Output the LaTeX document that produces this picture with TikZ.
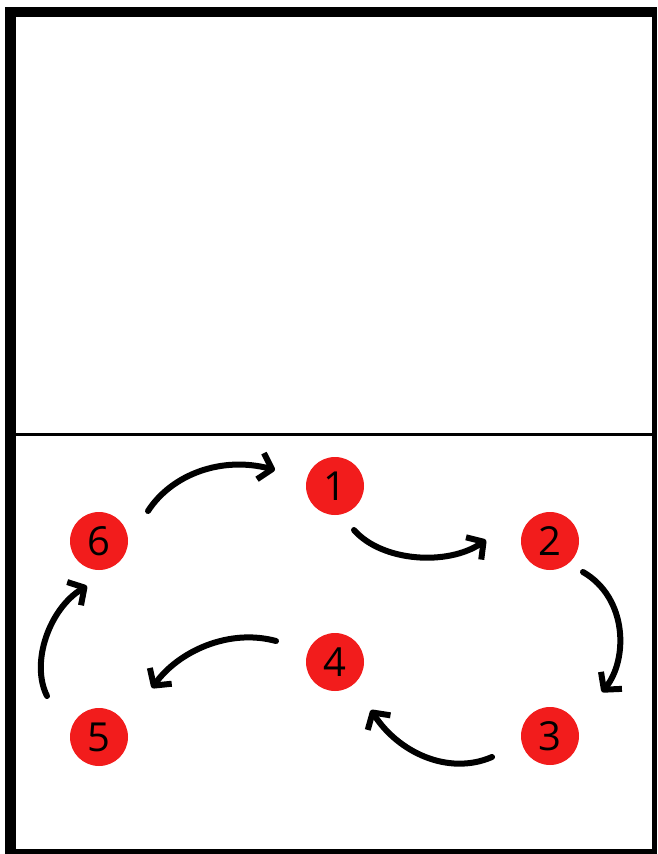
\documentclass[tikz,border=0pt]{standalone}
\usepackage{fontspec}
\setmainfont{Open Sans}
\usetikzlibrary{arrows.meta}
\definecolor{dotred}{RGB}{242,28,28}
\tikzset{
  dot/.style={circle,fill=dotred,minimum size=58pt,inner sep=0pt,font=\fontsize{40}{40}\selectfont},
  mv/.style={line width=6pt,line cap=round,-{Straight Barb[length=12pt,width=27pt,line join=round]}},
  band/.style={fill=black,draw=none}
}
\begin{document}
\begin{tikzpicture}[x=1pt,y=-1pt]
\useasboundingbox (0,0) rectangle (657,854);
\fill[white] (0,0) rectangle (657,854);
% frame
\fill[band] (5,7) rectangle (16,854);
\fill[band] (5,7) rectangle (657,17);
\fill[band] (652,7) rectangle (657,854);
\fill[band] (5,849) rectangle (657,854);
\coordinate (ml) at (16,434);
\coordinate (mr) at (652,434);
\draw[line width=3pt] (ml) -- (mr);
% players
\node[dot] (c1) at (335,486) {1};
\node[dot] (c2) at (550,541) {2};
\node[dot] (c3) at (550,736) {3};
\node[dot] (c4) at (335,662) {4};
\node[dot] (c5) at (99,737) {5};
\node[dot] (c6) at (99,541) {6};
% arrow ends
\coordinate (a6s) at (148,511);
\coordinate (a6e) at (275,470);
\coordinate (a1s) at (354,530);
\coordinate (a1e) at (486,540);
\coordinate (a2s) at (583,572);
\coordinate (a2e) at (602,692);
\coordinate (a3s) at (492,757);
\coordinate (a3e) at (371,710);
\coordinate (a4s) at (276,641);
\coordinate (a4e) at (152,688);
\coordinate (a5s) at (47,696);
\coordinate (a5e) at (87,586);
\draw[mv] (a6s) .. controls (172,474) and (222,456) .. (a6e);
\draw[mv] (a1s) .. controls (382,562) and (448,566) .. (a1e);
\draw[mv] (a2s) .. controls (628,598) and (628,660) .. (a2e);
\draw[mv] (a3s) .. controls (448,776) and (398,752) .. (a3e);
\draw[mv] (a4s) .. controls (228,628) and (178,652) .. (a4e);
\draw[mv] (a5s) .. controls (30,662) and (50,608) .. (a5e);
\end{tikzpicture}
\end{document}
